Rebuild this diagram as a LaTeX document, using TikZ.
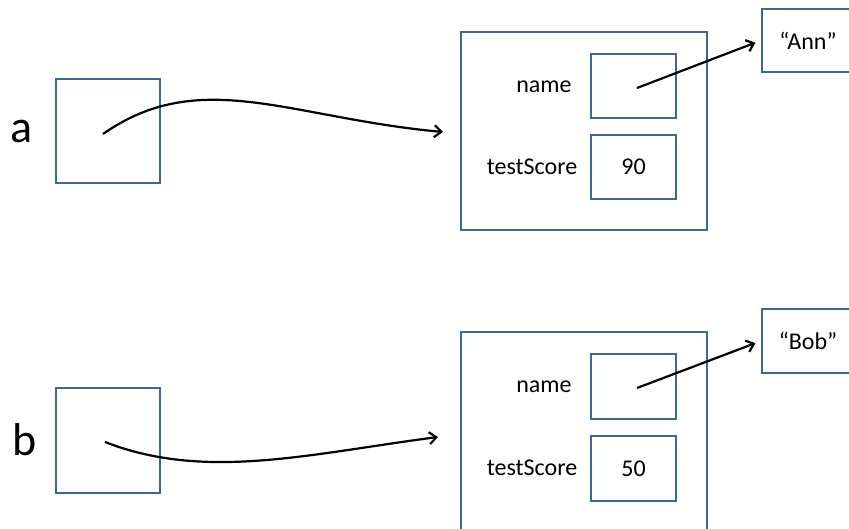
\documentclass[tikz,border=0pt]{standalone}
\usepackage{fontspec}
\setmainfont{Carlito}
\usetikzlibrary{arrows.meta}
\definecolor{boxblue}{HTML}{3D6796}
\begin{document}
\begin{tikzpicture}[x=1pt,y=-1pt,
  box/.style={draw=boxblue,line width=2pt,rectangle,inner sep=0pt,font=\fontsize{24}{28}\selectfont},
  lbl/.style={inner sep=0pt,font=\fontsize{24}{28}\selectfont},
  bigl/.style={inner sep=0pt,font=\fontsize{46}{50}\selectfont},
  ptr/.style={line width=2.2pt,-{Straight Barb[length=7pt,width=12pt]}}]
\useasboundingbox[fill=white] (0,0) rectangle (849,529);
\begin{scope}
\clip (0,0) rectangle (849,529);
% variable a
\node[bigl] (la) at (22,131) {a};
\node[box,minimum width=104pt,minimum height=104pt] (boxa) at (108,131) {};
\node[box,minimum width=246pt,minimum height=198pt] (objA) at (584,131) {};
\node[box,minimum width=85pt,minimum height=64pt] (nameA) at (633.5,86) {};
\node[box,minimum width=85pt,minimum height=64pt] (scoreA) at (633.5,167) {90};
\node[lbl] (tnameA) at (544,87) {name};
\node[lbl] (tscoreA) at (532,167) {testScore};
\node[box,minimum width=92pt,minimum height=63pt] (ann) at (808,40.5) {“Ann”};
% variable b
\node[bigl] (lb) at (25,440) {b};
\node[box,minimum width=104pt,minimum height=105pt] (boxb) at (108,440.5) {};
\node[box,minimum width=246pt,minimum height=198pt] (objB) at (584,431) {};
\node[box,minimum width=85pt,minimum height=65pt] (nameB) at (633.5,386.5) {};
\node[box,minimum width=85pt,minimum height=65pt] (scoreB) at (633.5,468.5) {50};
\node[lbl] (tnameB) at (544,387) {name};
\node[lbl] (tscoreB) at (532,468) {testScore};
\node[box,minimum width=92pt,minimum height=64pt] (bob) at (808,341) {“Bob”};
% pointers
\coordinate (endA) at (443,132);
\coordinate (endB) at (438,437);
\draw[ptr] ([shift={(-5,3)}]boxa.center) .. controls (200,66) and (290,118) .. (endA);
\draw[ptr] ([shift={(-3,1.5)}]boxb.center) .. controls (205,481) and (308,454) .. (endB);
\draw[ptr,shorten >=6pt] ([shift={(3.5,2)}]nameA.center) -- (ann.west);
\draw[ptr,shorten >=6pt] ([shift={(3.5,1.5)}]nameB.center) -- (bob.west);
\end{scope}
\end{tikzpicture}
\end{document}
